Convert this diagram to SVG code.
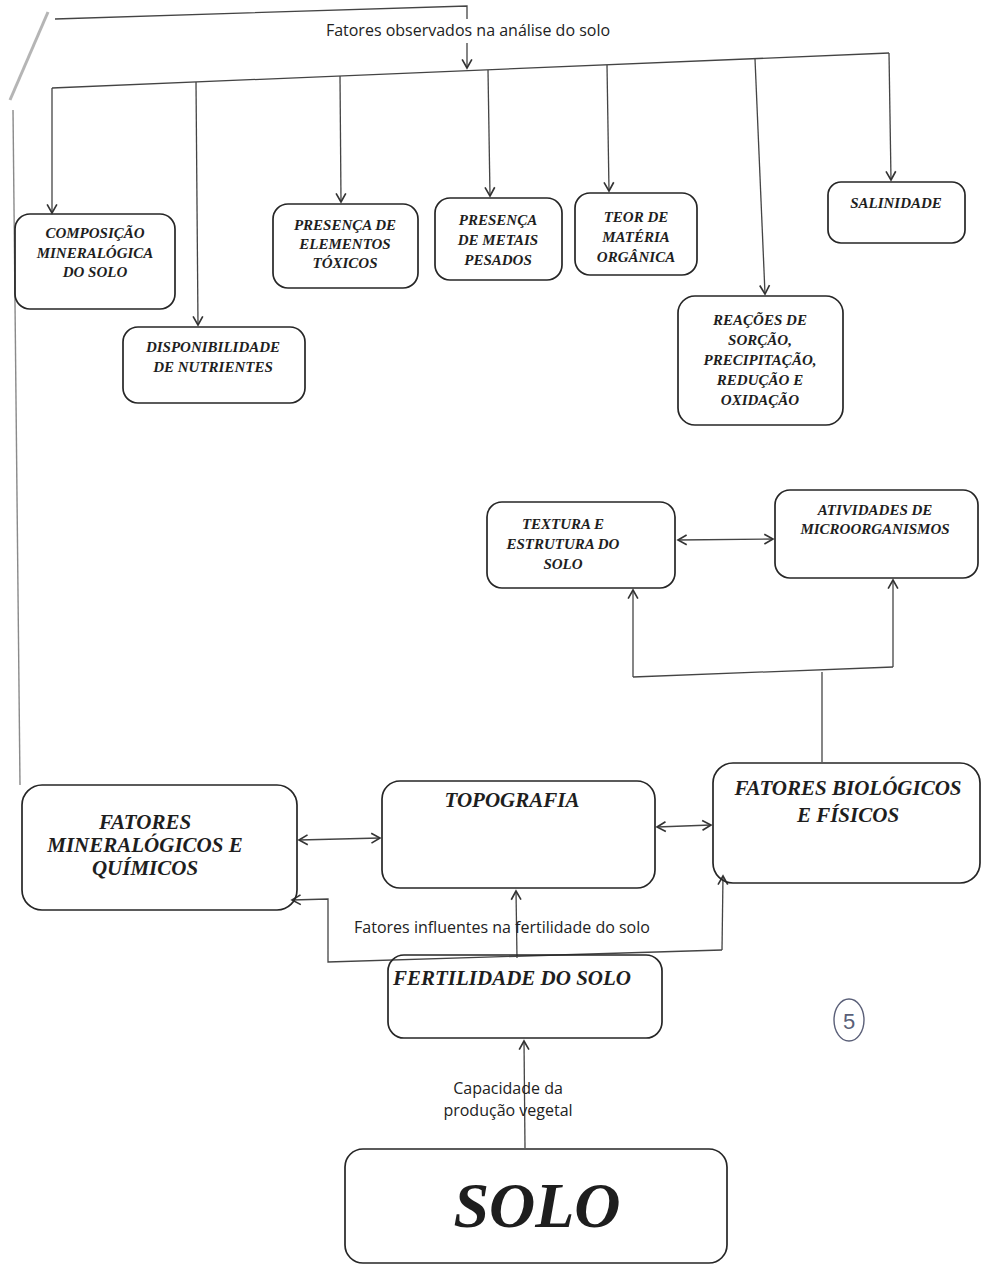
<svg xmlns="http://www.w3.org/2000/svg" width="981" height="1269" viewBox="0 0 981 1269">
  <defs>
    <style>
      .box { fill: none; stroke: #262626; stroke-width: 1.7; }
      .t { font-family: "Liberation Serif", "Times New Roman", serif; font-weight: bold; font-style: italic; fill: #1e1e1e; text-anchor: middle; }
      .s { font-size: 15px; }
      .m { font-size: 21px; }
      .lbl { font-family: "Open Sans", "Noto Sans", sans-serif; font-size: 16px; fill: #222; text-anchor: middle; }
      .c { fill: none; stroke: #444; stroke-width: 1.3; }
      .faint { fill: none; stroke: #8a8a8a; stroke-width: 1.4; }
    </style>
    <marker id="arr" viewBox="0 0 12 12" refX="10" refY="6" markerWidth="13" markerHeight="13" markerUnits="userSpaceOnUse" orient="auto-start-reverse">
      <path d="M2,1.5 L10,6 L2,10.5" fill="none" stroke="#333" stroke-width="1.5"/>
    </marker>
  </defs>

  <rect x="0" y="0" width="981" height="1269" fill="#ffffff"/>

  <!-- connectors -->
  <g id="connectors">
    <!-- left return line from the mineral factors up to the top heading -->
    <path class="faint" d="M20,785 L13,110"/>
    <path d="M10,100 L48,12" fill="none" stroke="#b5b5b5" stroke-width="3"/>
    <path class="c" d="M55,19 L467,6 L467,68" marker-end="url(#arr)"/>
    <!-- branch bar -->
    <path class="c" d="M52,88 L889,53"/>
    <path class="c" d="M52,88 L52,213" marker-end="url(#arr)"/>
    <path class="c" d="M196,82 L198,325" marker-end="url(#arr)"/>
    <path class="c" d="M340,76 L341,202" marker-end="url(#arr)"/>
    <path class="c" d="M488,70 L490,196" marker-end="url(#arr)"/>
    <path class="c" d="M607,65 L609,191" marker-end="url(#arr)"/>
    <path class="c" d="M755,59 L765,294" marker-end="url(#arr)"/>
    <path class="c" d="M889,53 L891,180" marker-end="url(#arr)"/>

    <!-- texture / microorganisms -->
    <path class="c" d="M678,540 L773,539" marker-start="url(#arr)" marker-end="url(#arr)"/>
    <path class="c" d="M822,762 L822,672"/>
    <path class="c" d="M633,677 L893,667"/>
    <path class="c" d="M633,677 L633,590" marker-end="url(#arr)"/>
    <path class="c" d="M893,667 L893,580" marker-end="url(#arr)"/>

    <!-- main row -->
    <path class="c" d="M299,840 L380,838" marker-start="url(#arr)" marker-end="url(#arr)"/>
    <path class="c" d="M657,827 L711,825" marker-start="url(#arr)" marker-end="url(#arr)"/>

    <!-- fertility links -->
    <path class="c" d="M722,950 L328,962 L328,899 L292,900" marker-end="url(#arr)"/>
    <path class="c" d="M722,950 L723,876" marker-end="url(#arr)"/>
    <path class="c" d="M517,958 L516,891" marker-end="url(#arr)"/>
    <path class="c" d="M525,1148 L524,1041" marker-end="url(#arr)"/>
  </g>

  <!-- labels on connectors -->
  <g id="labels">
    <rect x="320" y="19" width="296" height="24" fill="#fff"/>
    <text class="lbl" x="468" y="36">Fatores observados na análise do solo</text>
    <text class="lbl" x="502" y="933">Fatores influentes na fertilidade do solo</text>
    <text class="lbl" x="508" y="1094" font-size="17">Capacidade da</text>
    <text class="lbl" x="508" y="1116" font-size="17">produção vegetal</text>
  </g>

  <g id="composicao">
    <rect class="box" x="15" y="214" width="160" height="95" rx="15"/>
    <text class="t s" x="95" y="238">COMPOSIÇÃO</text>
    <text class="t s" x="95" y="258">MINERALÓGICA</text>
    <text class="t s" x="95" y="277">DO SOLO</text>
  </g>

  <g id="disponibilidade">
    <rect class="box" x="123" y="327" width="182" height="76" rx="15"/>
    <text class="t s" x="213" y="352">DISPONIBILIDADE</text>
    <text class="t s" x="213" y="372">DE NUTRIENTES</text>
  </g>

  <g id="elementos">
    <rect class="box" x="273" y="204" width="145" height="84" rx="15"/>
    <text class="t s" x="345" y="230">PRESENÇA DE</text>
    <text class="t s" x="345" y="249">ELEMENTOS</text>
    <text class="t s" x="345" y="268">TÓXICOS</text>
  </g>

  <g id="metais">
    <rect class="box" x="435" y="198" width="127" height="82" rx="15"/>
    <text class="t s" x="498" y="225">PRESENÇA</text>
    <text class="t s" x="498" y="245">DE METAIS</text>
    <text class="t s" x="498" y="265">PESADOS</text>
  </g>

  <g id="materia">
    <rect class="box" x="575" y="193" width="122" height="82" rx="15"/>
    <text class="t s" x="636" y="222">TEOR DE</text>
    <text class="t s" x="636" y="242">MATÉRIA</text>
    <text class="t s" x="636" y="262">ORGÂNICA</text>
  </g>

  <g id="salinidade">
    <rect class="box" x="828" y="182" width="137" height="61" rx="13"/>
    <text class="t s" x="896" y="208">SALINIDADE</text>
  </g>

  <g id="reacoes">
    <rect class="box" x="678" y="296" width="165" height="129" rx="17"/>
    <text class="t s" x="760" y="325">REAÇÕES DE</text>
    <text class="t s" x="760" y="345">SORÇÃO,</text>
    <text class="t s" x="760" y="365">PRECIPITAÇÃO,</text>
    <text class="t s" x="760" y="385">REDUÇÃO E</text>
    <text class="t s" x="760" y="405">OXIDAÇÃO</text>
  </g>

  <g id="textura">
    <rect class="box" x="487" y="502" width="188" height="86" rx="15"/>
    <text class="t s" x="563" y="529">TEXTURA E</text>
    <text class="t s" x="563" y="549">ESTRUTURA DO</text>
    <text class="t s" x="563" y="569">SOLO</text>
  </g>

  <g id="microorganismos">
    <rect class="box" x="775" y="490" width="203" height="88" rx="15"/>
    <text class="t s" x="875" y="515">ATIVIDADES DE</text>
    <text class="t s" x="875" y="534">MICROORGANISMOS</text>
  </g>

  <g id="mineralogicos">
    <rect class="box" x="22" y="785" width="275" height="125" rx="20"/>
    <text class="t m" x="145" y="829">FATORES</text>
    <text class="t m" x="145" y="852">MINERALÓGICOS E</text>
    <text class="t m" x="145" y="875">QUÍMICOS</text>
  </g>

  <g id="topografia">
    <rect class="box" x="382" y="781" width="273" height="107" rx="18"/>
    <text class="t m" x="512" y="807">TOPOGRAFIA</text>
  </g>

  <g id="biologicos">
    <rect class="box" x="713" y="763" width="267" height="120" rx="20"/>
    <text class="t m" x="848" y="795">FATORES BIOLÓGICOS</text>
    <text class="t m" x="848" y="822">E FÍSICOS</text>
  </g>

  <g id="fertilidade">
    <rect class="box" x="388" y="955" width="274" height="83" rx="16"/>
    <text class="t m" x="512" y="985">FERTILIDADE DO SOLO</text>
  </g>

  <g id="solo">
    <rect class="box" x="345" y="1149" width="382" height="114" rx="18"/>
    <text class="t" x="537" y="1227" font-size="64">SOLO</text>
  </g>

  <!-- page number written by hand -->
  <g id="page-number">
    <ellipse cx="849" cy="1020" rx="15" ry="21" fill="none" stroke="#5a5f78" stroke-width="1.4"/>
    <text x="849" y="1029" font-family="Liberation Sans, sans-serif" font-size="22" fill="#5a5f78" text-anchor="middle">5</text>
  </g>
</svg>
